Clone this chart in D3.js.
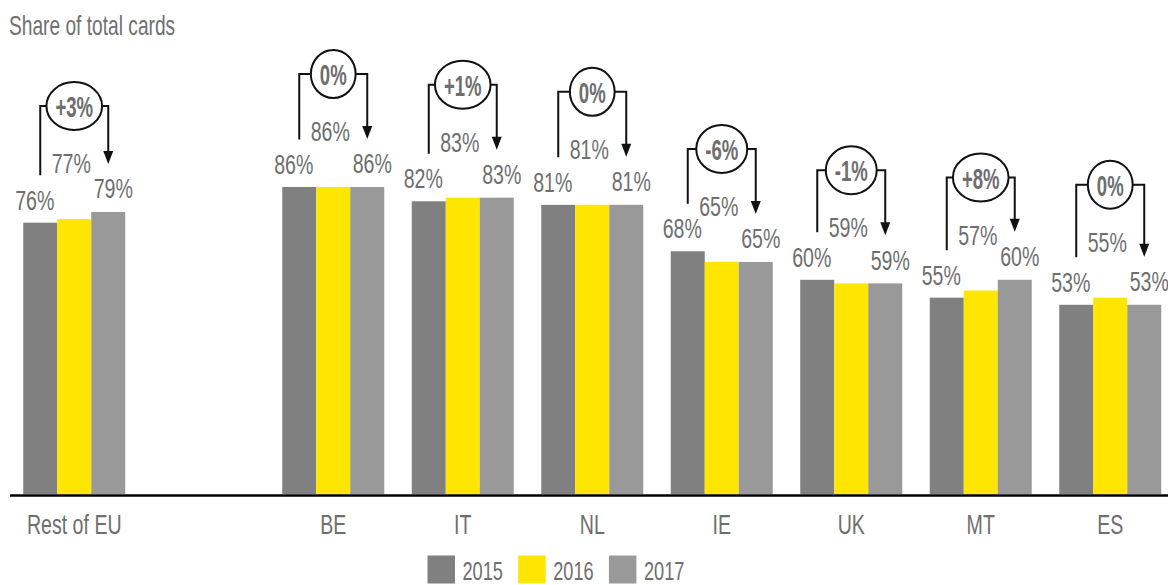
<!DOCTYPE html>
<html>
<head>
<meta charset="utf-8">
<script src="https://cdn.jsdelivr.net/npm/d3@7"></script>
<style>
  html, body { margin: 0; padding: 0; background: #ffffff; overflow: hidden; }
  svg { display: block; font-family: "Liberation Sans", Arial, sans-serif; }
</style>
</head>
<body>
<script>
// ---- data ----
const categories = ["Rest of EU", "BE", "IT", "NL", "IE", "UK", "MT", "ES"];
const years = ["2015", "2016", "2017"];
const values2015 = [76, 86, 82, 81, 68, 60, 55, 53];
const values2016 = [77, 86, 83, 81, 65, 59, 57, 55];
const values2017 = [79, 86, 83, 81, 65, 59, 60, 53];
const changeLabels = ["+3%", "0%", "+1%", "0%", "-6%", "-1%", "+8%", "0%"];
const seriesColors = ["#808080", "#FFE600", "#999999"];
const titleText = "Share of total cards";

// ---- layout ----
const W = 1168, H = 585;
const SX = 0.70;           // horizontal condensing of the narrow font
const textColor = "#6e6e6e";
const GAP = "__gap__";

const svg = d3.select("body").append("svg")
  .attr("width", W).attr("height", H);

const x = d3.scaleBand()
  .domain([categories[0], GAP, ...categories.slice(1)])
  .range([9.5, 1175])
  .paddingInner(0.2124)
  .paddingOuter(0.1062);

const xi = d3.scaleBand().domain(years).range([0, x.bandwidth()]).padding(0);

const y = d3.scaleLinear().domain([0, 100]).range([494, 137]);

const seriesValues = [values2015, values2016, values2017];
const rows = categories.map((c, i) => ({
  cat: c,
  vals: years.map((yr, j) => ({ year: yr, j, v: seriesValues[j][i] })),
  change: changeLabels[i]
}));

function scaledText(sel, tx, ty, s) {
  return sel.append("text")
    .attr("transform", `translate(${tx},${ty}) scale(${s},1)`);
}

// title
scaledText(svg, 9, 35, 0.71)
  .attr("font-size", 27).attr("fill", "#707070").text(titleText);

// bars
const groups = svg.selectAll("g.grp").data(rows).join("g")
  .attr("class", "grp")
  .attr("transform", d => `translate(${x(d.cat)},0)`);

groups.selectAll("rect").data(d => d.vals).join("rect")
  .attr("x", d => xi(d.year))
  .attr("y", d => y(d.v))
  .attr("width", xi.bandwidth())
  .attr("height", d => y(0) - y(d.v))
  .attr("fill", d => seriesColors[d.j]);

// value labels
const labelDx = [-5.5, -3, 5];
const labelDy = [-13, -46, -13.5];
groups.each(function (d) {
  const g = d3.select(this);
  d.vals.forEach(p => {
    const cx = xi(p.year) + xi.bandwidth() / 2 + labelDx[p.j];
    scaledText(g, cx, y(p.v) + labelDy[p.j], SX)
      .attr("font-size", 28).attr("fill", textColor)
      .attr("text-anchor", "middle")
      .text(p.v + "%");
  });
});

// change brackets
groups.each(function (d) {
  const g = d3.select(this);
  const xl = xi("2015") + xi.bandwidth() / 2;
  const xm = xi("2016") + xi.bandwidth() / 2;
  const xr = xi("2017") + xi.bandwidth() / 2;
  const yl = y(d.vals[0].v) - 47.5;
  const yb = y(d.vals[1].v) - 113;
  const tip = y(d.vals[2].v) - 48;

  const t = scaledText(g, xm, yb + 11, 0.64)
    .attr("font-size", 29).attr("font-weight", "bold")
    .attr("fill", textColor).attr("text-anchor", "middle")
    .text(d.change);
  const tw = t.node().getComputedTextLength() * 0.64;
  const rx = tw / 2 + 9, ry = 24;

  g.insert("path", "text")
    .attr("d", `M${xl},${yl} V${yb} H${xm - rx} M${xm + rx},${yb} H${xr} V${tip - 12}`)
    .attr("fill", "none").attr("stroke", "#111").attr("stroke-width", 2);
  g.append("path")
    .attr("d", `M${xr - 5},${tip - 13} L${xr + 5},${tip - 13} L${xr},${tip} Z`)
    .attr("fill", "#111");
  g.insert("ellipse", "text")
    .attr("cx", xm).attr("cy", yb)
    .attr("rx", rx).attr("ry", ry)
    .attr("fill", "#fff").attr("stroke", "#111").attr("stroke-width", 2);
  t.raise();
});

// x axis
const axis = d3.axisBottom(x).tickSize(0).tickSizeOuter(0)
  .tickFormat(c => c === GAP ? "" : c);
const ax = svg.append("g").attr("transform", "translate(0,495)").call(axis);
ax.select(".domain").attr("stroke", "#000").attr("stroke-width", 2.5);
ax.selectAll(".tick text")
  .attr("x", 0).attr("y", 39).attr("dy", 0)
  .attr("transform", `scale(${SX},1)`)
  .attr("font-size", 28)
  .attr("font-family", "Liberation Sans, Arial, sans-serif")
  .attr("fill", textColor);

// legend
const legend = svg.append("g").attr("class", "legend");
const legX = 427.5, legStep = 90.7;
years.forEach((yr, j) => {
  const lx = legX + j * legStep;
  legend.append("rect")
    .attr("x", lx).attr("y", 555.5)
    .attr("width", 27.5).attr("height", 28)
    .attr("fill", seriesColors[j]);
  scaledText(legend, lx + 35, 580, SX)
    .attr("font-size", 26).attr("fill", textColor).text(yr);
});
</script>
</body>
</html>
